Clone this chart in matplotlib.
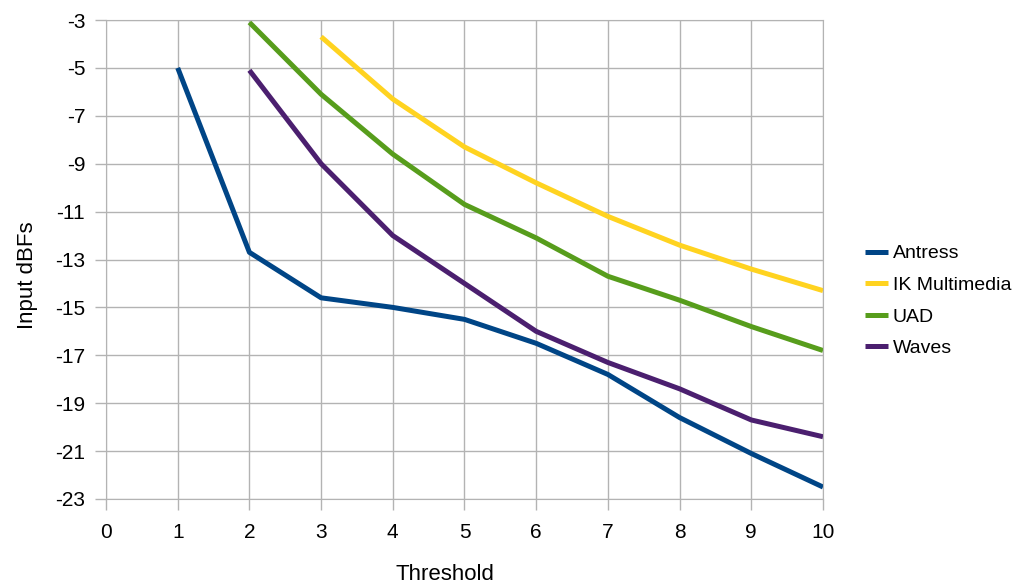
import matplotlib.pyplot as plt
import numpy as np

plt.rcParams['font.family'] = ['Liberation Sans', 'DejaVu Sans']
plt.rcParams['axes.unicode_minus'] = False

thresholds = [0, 1, 2, 3, 4, 5, 6, 7, 8, 9, 10]
antress = [np.nan, -5.0, -12.7, -14.6, -15.0, -15.5, -16.5, -17.8, -19.6, -21.1, -22.5]
ik_multimedia = [np.nan, np.nan, np.nan, -3.7, -6.3, -8.3, -9.8, -11.2, -12.4, -13.4, -14.3]
uad = [np.nan, np.nan, -3.1, -6.1, -8.6, -10.7, -12.1, -13.7, -14.7, -15.8, -16.8]
waves = [np.nan, np.nan, -5.1, -9.0, -12.0, -14.0, -16.0, -17.3, -18.4, -19.7, -20.4]

series = [
    ("Antress", antress, "#004586"),
    ("IK Multimedia", ik_multimedia, "#ffd320"),
    ("UAD", uad, "#579d1c"),
    ("Waves", waves, "#4b1f6f"),
]

fig = plt.figure(figsize=(10.17, 5.83), dpi=100)
ax = fig.add_axes([106 / 1017, 1 - 499 / 583, (823 - 106) / 1017, (499 - 20) / 583])

for name, vals, col in series:
    ax.plot(thresholds, vals, color=col, linewidth=3.6, label=name,
            solid_capstyle='butt', solid_joinstyle='round')

ax.set_xlim(0, 10)
ax.set_ylim(-23, -3)
ax.set_xticks(range(0, 11))
ax.set_yticks(range(-23, -2, 2))
ax.grid(True, color="#b3b3b3", linewidth=1)
ax.set_axisbelow(True)
for s in ax.spines.values():
    s.set_color("#b3b3b3")
ax.tick_params(axis='both', colors="#b3b3b3", labelcolor="black", labelsize=15,
               length=8, width=1, direction='out')
ax.tick_params(axis='x', pad=9)
ax.tick_params(axis='y', pad=7)

fig.text(445 / 1017, 1 - 580 / 583, "Threshold", fontsize=16,
         ha='center', va='baseline')
fig.text(27 / 1017, 1 - 275 / 583, "Input dBFs", fontsize=16,
         ha='center', va='center', rotation=90)

fig.legend(loc='center left', bbox_to_anchor=(847 / 1017, 1 - 301 / 583),
           frameon=False, fontsize=14, handlelength=1.2, handletextpad=0.25,
           labelspacing=0.72)

fig.savefig("out.png", dpi=100)
